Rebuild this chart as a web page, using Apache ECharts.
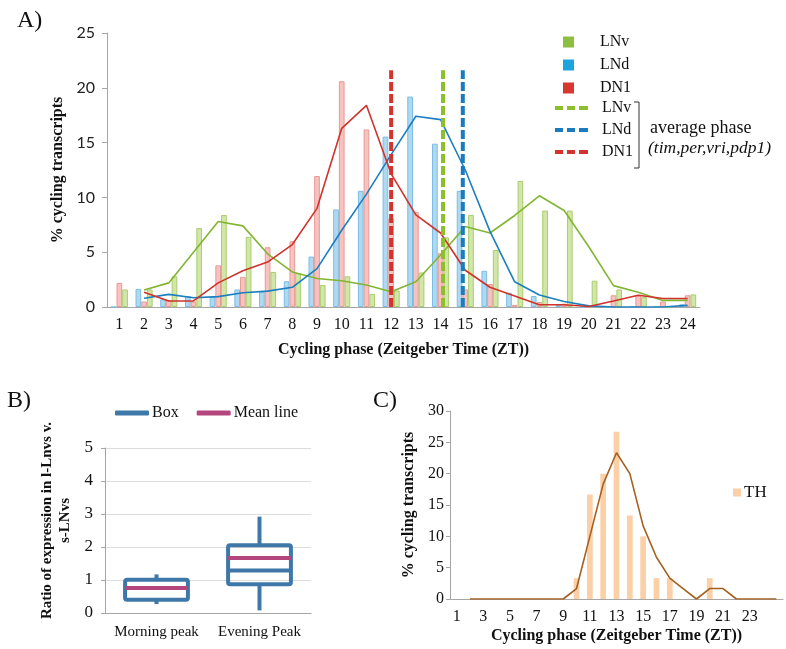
<!DOCTYPE html>
<html><head><meta charset="utf-8">
<script src="https://cdn.jsdelivr.net/npm/echarts@6/dist/echarts.min.js"></script>
<style>html,body{margin:0;padding:0;background:#fff}#c{width:786px;height:649px}</style>
</head><body><div id="c"></div>
<script>
// ---------- Panel A data ----------
const phaseCats = ['1','2','3','4','5','6','7','8','9','10','11','12','13','14','15','16','17','18','19','20','21','22','23','24'];
const lndBars = [0, 1.65, 0.7, 1.0, 0.95, 1.6, 1.4, 2.35, 4.6, 8.9, 10.6, 15.55, 19.2, 14.9, 10.6, 3.3, 1.3, 1.0, 0.2, 0, 0, 0, 0, 0.25];
const dn1Bars = [2.2, 0.5, 0.6, 0.5, 3.8, 2.75, 5.45, 6.0, 11.95, 20.6, 16.2, 8.1, 8.65, 4.9, 1.6, 2.1, 0.2, 0.45, 0.3, 0.1, 1.07, 1.07, 0.5, 1.07];
const lnvBars = [1.6, 1.6, 2.8, 7.2, 8.4, 6.4, 3.2, 3.1, 2.0, 2.8, 1.2, 1.5, 3.15, 6.35, 8.4, 5.2, 11.5, 8.8, 8.8, 2.4, 1.6, 0.9, 0, 1.15];
const lnvAvg = [null, 1.55, 2.2, 5.0, 7.8, 7.4, 4.85, 3.2, 2.6, 2.4, 2.0, 1.4, 2.3, 4.75, 7.35, 6.75, 8.35, 10.15, 8.8, 5.5, 1.95, 1.35, 0.6, 0.6];
const lndAvg = [null, 0.8, 1.15, 0.85, 0.95, 1.3, 1.45, 1.8, 3.5, 7.0, 10.3, 13.9, 17.4, 17.1, 12.5, 6.9, 2.3, 1.1, 0.5, 0.1, 0, 0, 0, 0.15];
const dn1Avg = [null, 1.35, 0.55, 0.55, 2.2, 3.3, 4.1, 5.7, 9.0, 16.3, 18.4, 12.15, 8.4, 6.75, 3.35, 1.8, 1.0, 0.2, 0.2, 0.05, 0.55, 1.07, 0.78, 0.78];
const avgPhaseLNv = 14.1;
const avgPhaseLNd = 14.9;
const avgPhaseDN1 = 12.0;
const avgPhaseTop = 21.6;
const yTicksA = [0, 5, 10, 15, 20, 25];

// ---------- Panel B data ----------
const boxCats = ['Morning peak', 'Evening Peak'];
const boxMin = [0.27, 0.08];
const boxQ1 = [0.4, 0.87];
const boxMedian = [0.76, 1.29];
const boxQ3 = [1.01, 2.05];
const boxMax = [1.17, 2.92];
const boxMean = [0.76, 1.67];

// ---------- Panel C data ----------
const thCats = ['1','2','3','4','5','6','7','8','9','10','11','12','13','14','15','16','17','18','19','20','21','22','23','24',''];
const thBars = [0,0,0,0,0,0,0,0,0,3.33,16.67,20,26.67,13.33,10,3.33,3.33,0,0,3.33,0,0,0,0,0];
const thAvg = [null,0,0,0,0,0,0,0,0,1.67,10,18.33,23.33,20,11.67,6.67,3.33,1.67,0,1.67,1.67,0,0,0,0];

const SERIF = '"Liberation Serif", "Times New Roman", serif';
const SANS = 'Lato, "Open Sans", sans-serif';
const axisGray = '#a6a6a6';
const DASH_ICON = 'path://M0,0H8V4H0Z M12,0H20V4H12Z M24,0H33V4H24Z';

const chart = echarts.init(document.getElementById('c'), null, {renderer: 'canvas'});

const boxData = boxCats.map((c, i) => [i, boxMin[i], boxQ1[i], boxMedian[i], boxQ3[i], boxMax[i]]);
const meanData = boxCats.map((c, i) => [i, boxMean[i]]);
const BOX_BLUE = '#3e78a8';
const MEAN_MAG = '#b4467d';

function renderBox(params, api) {
  const idx = api.value(0);
  const w = api.size([1, 0])[0] * 0.61;
  const x = api.coord([idx, 0])[0];
  const yMin = api.coord([idx, api.value(1)])[1];
  const yQ1 = api.coord([idx, api.value(2)])[1];
  const yMed = api.coord([idx, api.value(3)])[1];
  const yQ3 = api.coord([idx, api.value(4)])[1];
  const yMax = api.coord([idx, api.value(5)])[1];
  const st = {stroke: BOX_BLUE, lineWidth: 4, fill: null};
  return {type: 'group', children: [
    {type: 'line', shape: {x1: x, y1: yMax, x2: x, y2: yQ3}, style: st},
    {type: 'line', shape: {x1: x, y1: yQ1, x2: x, y2: yMin}, style: st},
    {type: 'rect', shape: {x: x - w / 2, y: yQ3, width: w, height: yQ1 - yQ3, r: 2}, style: {stroke: BOX_BLUE, lineWidth: 4, fill: 'rgba(0,0,0,0)'}},
    {type: 'line', shape: {x1: x - w / 2, y1: yMed, x2: x + w / 2, y2: yMed}, style: st}
  ]};
}
function renderMean(params, api) {
  const idx = api.value(0);
  const w = api.size([1, 0])[0] * 0.61;
  const p = api.coord([idx, api.value(1)]);
  return {type: 'line', shape: {x1: p[0] - w / 2, y1: p[1], x2: p[0] + w / 2, y2: p[1]}, style: {stroke: MEAN_MAG, lineWidth: 4}};
}

const option = {
  animation: false,
  title: [
    {text: 'A)', left: 12, top: 4, textStyle: {fontFamily: SERIF, fontSize: 24, fontWeight: 'normal', color: '#111'}},
    {text: 'B)', left: 2, top: 384, textStyle: {fontFamily: SERIF, fontSize: 24, fontWeight: 'normal', color: '#111'}},
    {text: 'C)', left: 368, top: 384, textStyle: {fontFamily: SERIF, fontSize: 24, fontWeight: 'normal', color: '#111'}}
  ],
  legend: [
    {
      orient: 'vertical', left: 563, top: 33, padding: 0, itemWidth: 11, itemHeight: 11, itemGap: 5,
      icon: 'rect',
      textStyle: {fontFamily: SERIF, fontSize: 16, color: '#111', lineHeight: 18, padding: [0, 0, 0, 21]},
      data: [
        {name: 'LNv', itemStyle: {color: '#8cbf3f', borderWidth: 0}},
        {name: 'LNd', itemStyle: {color: '#1ca4df', borderWidth: 0}},
        {name: 'DN1', itemStyle: {color: '#d8362e', borderWidth: 0}}
      ],
      selectedMode: false
    },
    {
      orient: 'vertical', left: 555, top: 99, padding: 0, itemWidth: 33, itemHeight: 4, itemGap: 4,
      textStyle: {fontFamily: SERIF, fontSize: 16, color: '#111', lineHeight: 18, padding: [0, 0, 0, 9]},
      formatter: n => n.trim(),
      data: [
        {name: 'LNv ', icon: DASH_ICON, itemStyle: {color: '#8dbf2c'}},
        {name: 'LNd ', icon: DASH_ICON, itemStyle: {color: '#1a7bbf'}},
        {name: 'DN1 ', icon: DASH_ICON, itemStyle: {color: '#d2342d'}}
      ],
      selectedMode: false
    },
    {
      orient: 'horizontal', left: 115, top: 405, padding: 0, itemWidth: 34, itemHeight: 5, itemGap: 18,
      icon: 'roundRect',
      textStyle: {fontFamily: SERIF, fontSize: 16, color: '#111', padding: [0, 0, 0, -2]},
      data: [
        {name: 'Box', itemStyle: {color: BOX_BLUE}},
        {name: 'Mean line', itemStyle: {color: MEAN_MAG}}
      ],
      selectedMode: false
    },
    {
      orient: 'vertical', left: 733, top: 484, padding: 0, itemWidth: 8, itemHeight: 8, icon: 'rect',
      textStyle: {fontFamily: SERIF, fontSize: 17, color: '#111', padding: [0, 0, 0, -2]},
      data: [{name: 'TH', itemStyle: {color: '#fcd0a6'}}],
      selectedMode: false
    }
  ],
  grid: [
    {left: 107, top: 33, width: 593, height: 274},
    {left: 105, top: 448, width: 206, height: 165},
    {left: 450, top: 411, width: 333, height: 188}
  ],
  xAxis: [
    {
      type: 'category', gridIndex: 0, data: phaseCats,
      axisLine: {lineStyle: {color: axisGray}}, axisTick: {length: 5, lineStyle: {color: axisGray}},
      axisLabel: {fontFamily: SERIF, fontSize: 16, color: '#111', margin: 10, interval: 0},
      name: 'Cycling phase (Zeitgeber Time (ZT))', nameLocation: 'middle', nameGap: 35,
      nameTextStyle: {fontFamily: SERIF, fontSize: 16, fontWeight: 'bold', color: '#111'}
    },
    {type: 'value', gridIndex: 0, min: 0.5, max: 24.5, show: false},
    {
      type: 'category', gridIndex: 1, data: boxCats,
      axisLine: {lineStyle: {color: axisGray}}, axisTick: {length: 5, lineStyle: {color: axisGray}},
      axisLabel: {fontFamily: SERIF, fontSize: 15, color: '#111', margin: 12, interval: 0}
    },
    {
      type: 'category', gridIndex: 2, data: thCats,
      axisLine: {lineStyle: {color: axisGray}}, axisTick: {length: 4, interval: 0, lineStyle: {color: axisGray}},
      axisLabel: {fontFamily: SERIF, fontSize: 16, color: '#111', margin: 10, interval: 1},
      name: 'Cycling phase (Zeitgeber Time (ZT))', nameLocation: 'middle', nameGap: 29,
      nameTextStyle: {fontFamily: SERIF, fontSize: 16, fontWeight: 'bold', color: '#111'}
    }
  ],
  yAxis: [
    {
      type: 'value', gridIndex: 0, min: yTicksA[0], max: yTicksA[yTicksA.length - 1], interval: 5,
      axisLine: {show: true, lineStyle: {color: axisGray}}, axisTick: {show: true, length: 5, lineStyle: {color: axisGray}},
      splitLine: {show: false},
      axisLabel: {fontFamily: SANS, fontSize: 16, color: '#222', margin: 12},
      name: '% cycling transcripts', nameLocation: 'middle', nameGap: 36,
      nameTextStyle: {fontFamily: SERIF, fontSize: 16, fontWeight: 'bold', color: '#111'}
    },
    {
      type: 'value', gridIndex: 1, min: 0, max: 5, interval: 1,
      axisLine: {show: true, lineStyle: {color: axisGray}}, axisTick: {show: true, length: 4, lineStyle: {color: axisGray}},
      splitLine: {show: true, lineStyle: {color: '#dcdcdc'}},
      axisLabel: {fontFamily: SERIF, fontSize: 17, color: '#111', margin: 12},
      name: 'Ratio of expression in l-Lnvs v.\ns-LNvs', nameLocation: 'middle', nameGap: 31,
      nameTextStyle: {fontFamily: SERIF, fontSize: 15, fontWeight: 'bold', color: '#111', lineHeight: 18, align: 'center', padding: [0, 0, 0, 20]}
    },
    {
      type: 'value', gridIndex: 2, min: 0, max: 30, interval: 5,
      axisLine: {show: true, lineStyle: {color: axisGray}}, axisTick: {show: true, length: 4, lineStyle: {color: axisGray}},
      splitLine: {show: false},
      axisLabel: {fontFamily: SERIF, fontSize: 16, color: '#111', margin: 6},
      name: '% cycling transcripts', nameLocation: 'middle', nameGap: 33,
      nameTextStyle: {fontFamily: SERIF, fontSize: 16, fontWeight: 'bold', color: '#111'}
    }
  ],
  series: [
    {name: 'LNd', type: 'bar', xAxisIndex: 0, yAxisIndex: 0, data: lndBars, barWidth: 5.7, barGap: '0%',
     itemStyle: {color: 'rgba(160,210,238,0.85)', borderColor: '#7dbde3', borderWidth: 1}},
    {name: 'DN1', type: 'bar', xAxisIndex: 0, yAxisIndex: 0, data: dn1Bars, barWidth: 5.7, barGap: '0%',
     itemStyle: {color: 'rgba(244,180,176,0.8)', borderColor: '#e99a95', borderWidth: 1}},
    {name: 'LNv', type: 'bar', xAxisIndex: 0, yAxisIndex: 0, data: lnvBars, barWidth: 5.7, barGap: '0%',
     itemStyle: {color: 'rgba(205,227,160,0.9)', borderColor: '#a9cd6e', borderWidth: 1}},
    {name: 'lnvAvg', type: 'line', xAxisIndex: 0, yAxisIndex: 0, data: lnvAvg, symbol: 'none', z: 3,
     lineStyle: {color: '#82b532', width: 1.6}},
    {name: 'lndAvg', type: 'line', xAxisIndex: 0, yAxisIndex: 0, data: lndAvg, symbol: 'none', z: 3,
     lineStyle: {color: '#1b7fc0', width: 1.6}},
    {name: 'dn1Avg', type: 'line', xAxisIndex: 0, yAxisIndex: 0, data: dn1Avg, symbol: 'none', z: 3,
     lineStyle: {color: '#cf332b', width: 1.6}},
    {name: 'LNv ', type: 'line', xAxisIndex: 1, yAxisIndex: 0, data: [[avgPhaseLNv, 0], [avgPhaseLNv, avgPhaseTop]], symbol: 'none', z: 4,
     itemStyle: {color: '#8dbf2c'}, lineStyle: {color: '#8dbf2c', width: 4, type: [9, 3]}},
    {name: 'LNd ', type: 'line', xAxisIndex: 1, yAxisIndex: 0, data: [[avgPhaseLNd, 0], [avgPhaseLNd, avgPhaseTop]], symbol: 'none', z: 4,
     itemStyle: {color: '#1a7bbf'}, lineStyle: {color: '#1a7bbf', width: 4, type: [9, 3]}},
    {name: 'DN1 ', type: 'line', xAxisIndex: 1, yAxisIndex: 0, data: [[avgPhaseDN1, 0], [avgPhaseDN1, avgPhaseTop]], symbol: 'none', z: 4,
     itemStyle: {color: '#d2342d'}, lineStyle: {color: '#d2342d', width: 4, type: [9, 3]}},
    {name: 'Box', type: 'custom', xAxisIndex: 2, yAxisIndex: 1, data: boxData, renderItem: renderBox,
     itemStyle: {color: BOX_BLUE}, encode: {x: 0, y: [1, 2, 3, 4, 5]}},
    {name: 'Mean line', type: 'custom', xAxisIndex: 2, yAxisIndex: 1, data: meanData, renderItem: renderMean, z: 5,
     itemStyle: {color: MEAN_MAG}, encode: {x: 0, y: 1}},
    {name: 'TH', type: 'bar', xAxisIndex: 3, yAxisIndex: 2, data: thBars, barWidth: 5.7,
     itemStyle: {color: '#fcd0a6'}},
    {name: 'thAvg', type: 'line', xAxisIndex: 3, yAxisIndex: 2, data: thAvg, symbol: 'none',
     lineStyle: {color: '#a5601f', width: 1.6}}
  ],
  graphic: [
    {type: 'polyline', shape: {points: [[634, 102], [639, 102], [639, 168], [634, 168]]}, style: {stroke: '#333', lineWidth: 1, fill: null}},
    {type: 'text', left: 650, top: 119, style: {text: 'average phase', font: '18px ' + SERIF, fill: '#111'}},
    {type: 'text', left: 648, top: 139, style: {text: '(tim,per,vri,pdp1)', font: 'italic 17.5px ' + SERIF, fill: '#111'}}
  ]
};
chart.setOption(option);
</script>
</body></html>
